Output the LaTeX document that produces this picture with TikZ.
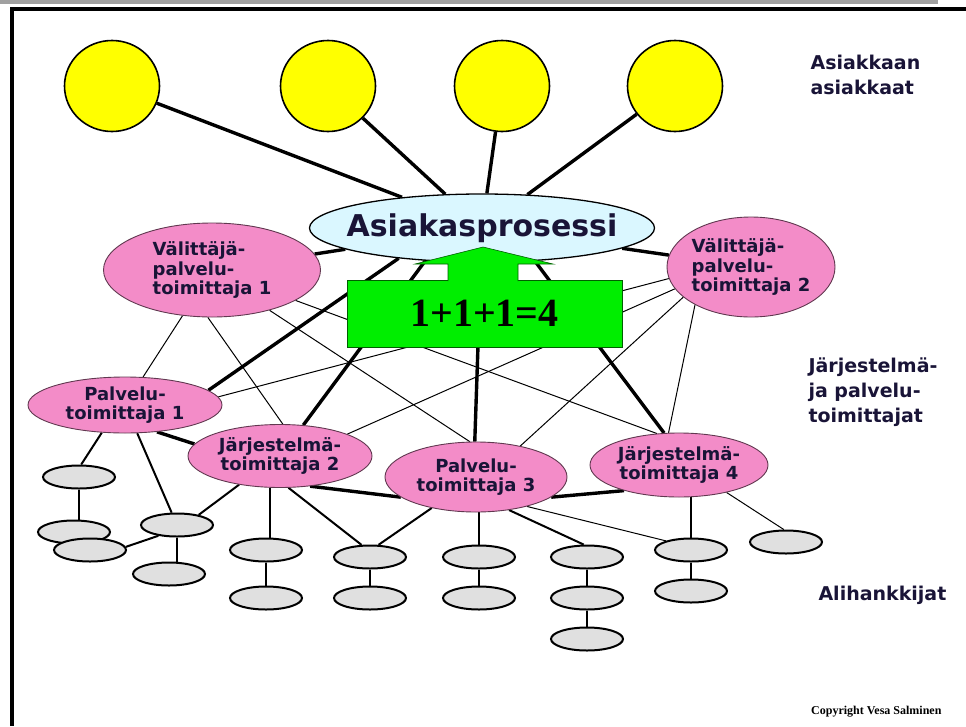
\documentclass[tikz,border=0pt]{standalone}
\usepackage{fontspec}
\setmainfont{DejaVu Sans}
\newfontfamily\timesfont{Liberation Serif}
\usetikzlibrary{shapes.geometric,backgrounds}

\definecolor{sunyellow}{RGB}{255,255,0}
\definecolor{processcyan}{RGB}{218,247,255}
\definecolor{brokerpink}{RGB}{243,140,200}
\definecolor{subgrey}{RGB}{224,224,224}
\definecolor{sumgreen}{RGB}{0,238,0}
\definecolor{textnavy}{RGB}{25,20,55}
\definecolor{barback}{RGB}{160,160,160}

\tikzset{
  customer/.style={ellipse,draw=black,line width=1.6pt,fill=sunyellow,
    minimum width=95pt,minimum height=91pt},
  process/.style={ellipse,draw=black,line width=1.3pt,fill=processcyan,
    minimum width=345pt,minimum height=68pt,text=textnavy,
    font=\fontsize{30}{32}\selectfont\bfseries},
  supplier/.style={ellipse,draw=black!60!brokerpink,line width=0.9pt,
    fill=brokerpink,inner sep=0pt,text=textnavy,align=center,
    font=\fontsize{18}{19.5}\selectfont\bfseries},
  subsupplier/.style={ellipse,draw=black,line width=2pt,fill=subgrey,
    minimum width=72pt,minimum height=23pt},
  sumbox/.style={rectangle,draw=black!60!sumgreen,line width=0.6pt,
    fill=sumgreen,minimum width=275pt,minimum height=67pt,
    font=\timesfont\bfseries\fontsize{40}{42}\selectfont},
  side label/.style={anchor=west,align=left,text=textnavy,
    font=\fontsize{19}{25}\selectfont\bfseries},
  main link/.style={line width=3.4pt},
  side link/.style={line width=1pt},
  sub link/.style={line width=2pt}
}

\begin{document}
\begin{tikzpicture}[x=1pt, y=-1pt]
  \useasboundingbox (0,0) rectangle (966,726);
  % slide frame
  \fill[barback] (0,0) rectangle (938,3.5);
  \draw[line width=4pt] (966,8.5) -- (11.5,8.5) -- (11.5,726);

  \node[customer] (Y1) at (112,86) {};
  \node[customer] (Y2) at (328,86) {};
  \node[customer] (Y3) at (502,86) {};
  \node[customer] (Y4) at (675,86) {};

  \node[process] (AP) at (482,228) {\makebox[0pt]{Asiakasprosessi}};

  \node[sumbox] (sum) at (484.5,313.5) {1+1+1=4};
  \filldraw[fill=sumgreen, draw=black!60!sumgreen, line width=0.6pt]
    (448,281) -- (448,264) -- (415,264) -- (483,247) -- (553,264)
    -- (518,264) -- (518,281);

  \node[supplier, minimum width=217pt, minimum height=94pt, align=left]
    (V1) at (212,270) {Välittäjä-\\palvelu-\\toimittaja 1};
  \node[supplier, minimum width=168pt, minimum height=100pt, align=left]
    (V2) at (751,267) {Välittäjä-\\palvelu-\\toimittaja 2};
  \node[supplier, minimum width=194pt, minimum height=56pt]
    (P1) at (125,405) {Palvelu-\\toimittaja 1};
  \node[supplier, minimum width=184pt, minimum height=63pt]
    (J2) at (280,456) {Järjestelmä-\\toimittaja 2};
  \node[supplier, minimum width=182pt, minimum height=70pt]
    (P3) at (476,477) {Palvelu-\\toimittaja 3};
  \node[supplier, minimum width=178pt, minimum height=64pt]
    (J4) at (679,465) {Järjestelmä-\\toimittaja 4};

  \node[subsupplier] (G1) at (79,477) {};
  \node[subsupplier] (G2) at (74,532) {};
  \node[subsupplier] (G3) at (90,550) {};
  \node[subsupplier] (G4) at (177,525) {};
  \node[subsupplier] (G5) at (169,574) {};
  \node[subsupplier] (G6) at (266,550) {};
  \node[subsupplier] (G7) at (266,598) {};
  \node[subsupplier] (G8) at (370,557) {};
  \node[subsupplier] (G9) at (370,598) {};
  \node[subsupplier] (G10) at (479,557) {};
  \node[subsupplier] (G11) at (479,598) {};
  \node[subsupplier] (G12) at (587,557) {};
  \node[subsupplier] (G13) at (587,598) {};
  \node[subsupplier] (G14) at (587,639) {};
  \node[subsupplier] (G15) at (691,550) {};
  \node[subsupplier] (G16) at (691,591) {};
  \node[subsupplier] (G17) at (786,542) {};

  \node[side label] (lcust) at (807,75) {Asiakkaan\\asiakkaat};
  \node[side label] (lsupp) at (805,392) {Järjestelmä-\\ja palvelu-\\toimittajat};
  \node[side label] (lsub) at (815,595) {Alihankkijat};
  \node[anchor=east, font=\timesfont\bfseries\fontsize{12}{14}\selectfont]
    (copy) at (945,712) {Copyright Vesa Salminen};

  \begin{scope}[on background layer]
    \foreach \c in {Y1,Y2,Y3,Y4}
      \draw[main link] (\c) -- (AP);
    \draw[main link] (AP) -- (V1);
    \draw[main link] (AP) -- (V2);
    \draw[main link] (AP.200) -- (P1.10);
    \draw[main link] (AP.210) -- (J2.53);
    \draw[main link] (AP.268) -- (P3.92);
    \draw[main link] (AP.328) -- (J4.115);
    \draw[main link] (P1.320) -- (J2.172);
    \draw[main link] (J2.315) -- (P3.195);
    \draw[main link] (P3.345) -- (J4.205);

    \draw[side link] (V1) -- (P1);
    \draw[side link] (V1.265) -- (J2.85);
    \draw[side link] (V1.325) -- (P3.100);
    \draw[side link] (V1.340) -- (J4.125);
    \draw[side link] (V2.188) -- (P1.5);
    \draw[side link] (V2.196) -- (J2.18);
    \draw[side link] (V2.204) -- (P3.35);
    \draw[side link] (V2.214) -- (J4.108);

    \draw[sub link] (P1.230) -- (G1.80);
    \draw[sub link] (G1) -- (G1 |- G2.north);
    \draw[sub link] (P1) -- (G4);
    \draw[sub link] (G4) -- (G4 |- G5.north);
    \draw[sub link] (G4.25) -- (J2.215);
    \draw[sub link] (G3.5) -- (G4.210);
    \draw[sub link] (J2.252) -- (J2.252 |- G6.north);
    \draw[sub link] (G6) -- (G7);
    \draw[sub link] (J2.285) -- (G8.125);
    \draw[sub link] (P3.215) -- (G8.55);
    \draw[sub link] (G8) -- (G9);
    \draw[sub link] (G10.north) -- (G10 |- P3.south);
    \draw[sub link] (G10) -- (G11);
    \draw[sub link] (P3.315) -- (G12.105);
    \draw[sub link] (G12) -- (G13);
    \draw[sub link] (G13) -- (G14);
    \draw[side link] (P3.330) -- (G15.160);
    \draw[sub link] (G15.north) -- (G15 |- J4.south);
    \draw[sub link] (G15) -- (G16);
    \draw[side link] (J4.330) -- (G17.100);
  \end{scope}
\end{tikzpicture}
\end{document}
